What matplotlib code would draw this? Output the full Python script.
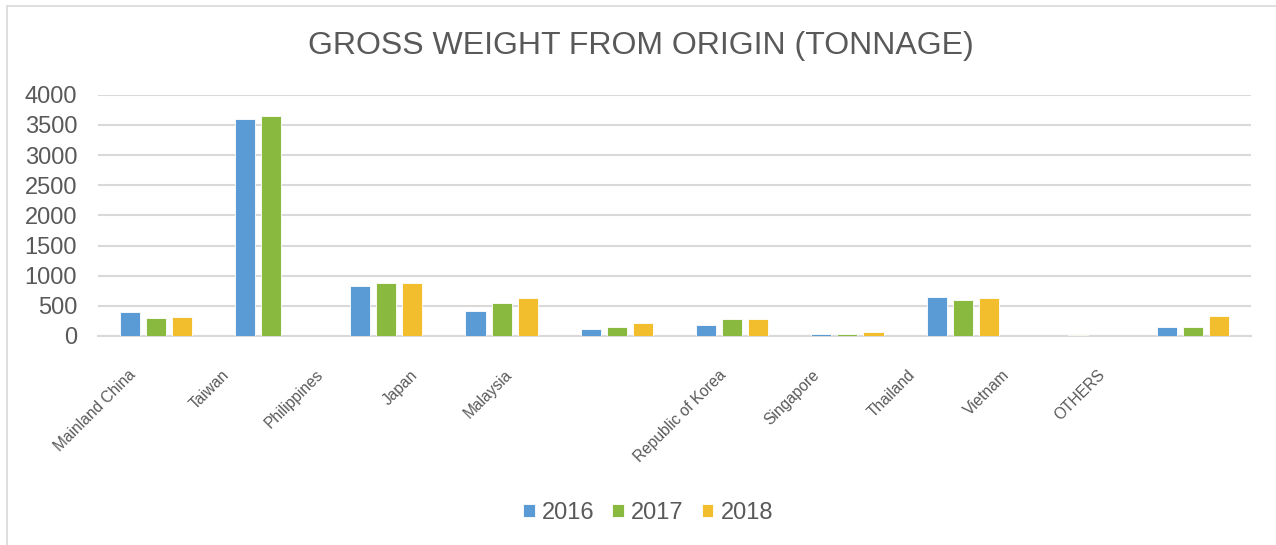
import numpy as np
import matplotlib
matplotlib.use('Agg')
import matplotlib.pyplot as plt
from matplotlib.transforms import ScaledTranslation
from matplotlib.lines import Line2D

plt.rcParams['font.family'] = ['Liberation Sans', 'DejaVu Sans']

origins = ['Mainland China', 'Taiwan', 'Philippines', 'Japan', 'Malaysia',
           'Republic of Korea', 'Singapore', 'Thailand', 'Vietnam', 'OTHERS']
years = ['2016', '2017', '2018']
w2016 = [403, 3592, 829, 417, 117, 183, 33, 650, 0, 150]
w2017 = [293, 3647, 873, 550, 145, 278, 40, 600, 15, 150]
w2018 = [310, 0, 884, 638, 212, 283, 67, 633, 8, 338]

colors = ['#5B9BD5', '#89B93E', '#F3BE2E']
txt = '#595959'
grid = '#D9D9D9'

fig = plt.figure(figsize=(12.76, 5.45), dpi=100)
ax = fig.add_axes([98/1276, 1-336/545, 1153/1276, 241.3/545])

x = np.arange(len(origins))
bw = 0.174
step = 0.226
for k, (vals, c) in enumerate(zip([w2016, w2017, w2018], colors)):
    ax.bar(x + (k-1)*step, vals, bw, color=c, edgecolor='white',
           linewidth=0.6, label=years[k], zorder=3)

ax.set_xlim(-0.5, len(origins)-0.5)
ax.set_ylim(0, 4000)
ax.set_yticks(np.arange(0, 4001, 500))
ax.yaxis.grid(True, color=grid, linewidth=1.5, zorder=0)
ax.tick_params(axis='y', length=0, pad=15, labelsize=17, labelcolor=txt)
ax.tick_params(axis='x', length=0, labelbottom=False)
for s in ['top', 'right', 'left']:
    ax.spines[s].set_visible(False)
ax.spines['bottom'].set_color(grid)
ax.spines['bottom'].set_linewidth(1.5)

# category labels (offsets in px, copied from the reference layout)
dx = [-19.5, -40.5, -62.5, -82.5, -103.5, -5.5, -27.5, -46.5, -67.5, -87.5]
for i, name in enumerate(origins):
    tr = ax.get_xaxis_transform() + ScaledTranslation((dx[i]+2)/100, -31/100, fig.dpi_scale_trans)
    ax.text(i, 0, name, rotation=45, ha='right', va='top', transform=tr,
            fontsize=11.2, color=txt)

fig.text(0.502, 1-46/545, 'GROSS WEIGHT FROM ORIGIN (TONNAGE)', ha='center',
         va='center', fontsize=23, color=txt)

leg = fig.legend(loc='center', bbox_to_anchor=(648/1276, 1-513/545), ncol=3,
                 frameon=False, fontsize=17, handlelength=0.5, handleheight=0.5,
                 handletextpad=0.3, columnspacing=0.75)
for t in leg.get_texts():
    t.set_color(txt)

# chart frame (top and left edges only are in the crop)
fig.add_artist(Line2D([6.5/1276, 6.5/1276], [0, 1-5.5/545], transform=fig.transFigure,
                      color=grid, linewidth=1.2))
fig.add_artist(Line2D([6.5/1276, 1], [1-5.5/545, 1-5.5/545], transform=fig.transFigure,
                      color=grid, linewidth=1.2))

fig.savefig('out.png', dpi=100)
